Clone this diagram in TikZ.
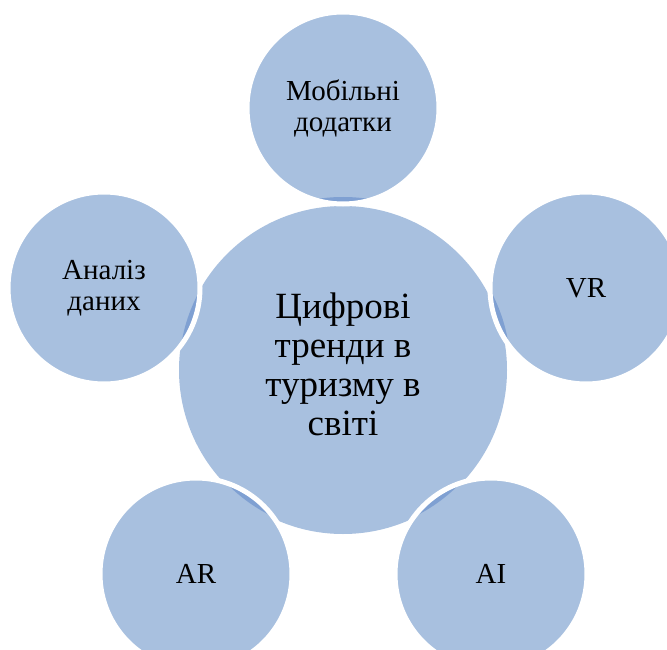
\documentclass[tikz,border=0pt]{standalone}
\usepackage{fontspec}
\setmainfont{Liberation Serif}
\definecolor{bubble}{HTML}{A8C0DF}
\definecolor{lensblue}{HTML}{7FA0D2}
\begin{document}
\begin{tikzpicture}[x=1pt,y=-1pt,
  hub/.style={circle, fill=bubble, minimum size=328pt, inner sep=0pt},
  hubtext/.style={align=center, inner sep=0pt, font=\fontsize{37}{39}\selectfont},
  sat/.style={circle, fill=bubble, minimum size=192pt, inner sep=0pt, align=center, font=\fontsize{29}{31}\selectfont},
  ring/.style={draw=white, line width=5pt}]
\useasboundingbox (0,0) rectangle (667,650);
\clip (0,0) rectangle (667,650);
\fill[white] (0,0) rectangle (667,650);
\node[hub] (hub) at (343,370) {};
\node[hubtext] (hubtxt) at (343,364) {Цифрові\\тренди в\\туризму в\\світі};
% top
\node[sat] (mob) at (343,108) {Мобільні\\додатки};
\begin{scope}
\clip (mob.center) circle[radius=96];
\fill[lensblue] (hub.center) circle[radius=173];
\end{scope}
\draw[ring] (mob.center) circle[radius=96];
% right
\node[sat] (vr) at (586,288) {VR};
\begin{scope}
\clip (vr.center) circle[radius=96];
\fill[lensblue] (hub.center) circle[radius=167.5];
\end{scope}
\draw[ring] (vr.center) circle[radius=96];
% bottom right
\node[sat] (ai) at (491,574) {AI};
\begin{scope}
\clip (ai.center) circle[radius=96];
\fill[lensblue] (hub.center) circle[radius=163];
\end{scope}
\draw[ring] (ai.center) circle[radius=96];
% bottom left
\node[sat] (ar) at (196,574) {AR};
\begin{scope}
\clip (ar.center) circle[radius=96];
\fill[lensblue] (hub.center) circle[radius=162.5];
\end{scope}
\draw[ring] (ar.center) circle[radius=96];
% left
\node[sat] (data) at (104,288) {Аналіз\\даних};
\begin{scope}
\clip (data.center) circle[radius=96];
\fill[lensblue] (hub.center) circle[radius=163.7];
\end{scope}
\draw[ring] (data.center) circle[radius=96];
\end{tikzpicture}
\end{document}
